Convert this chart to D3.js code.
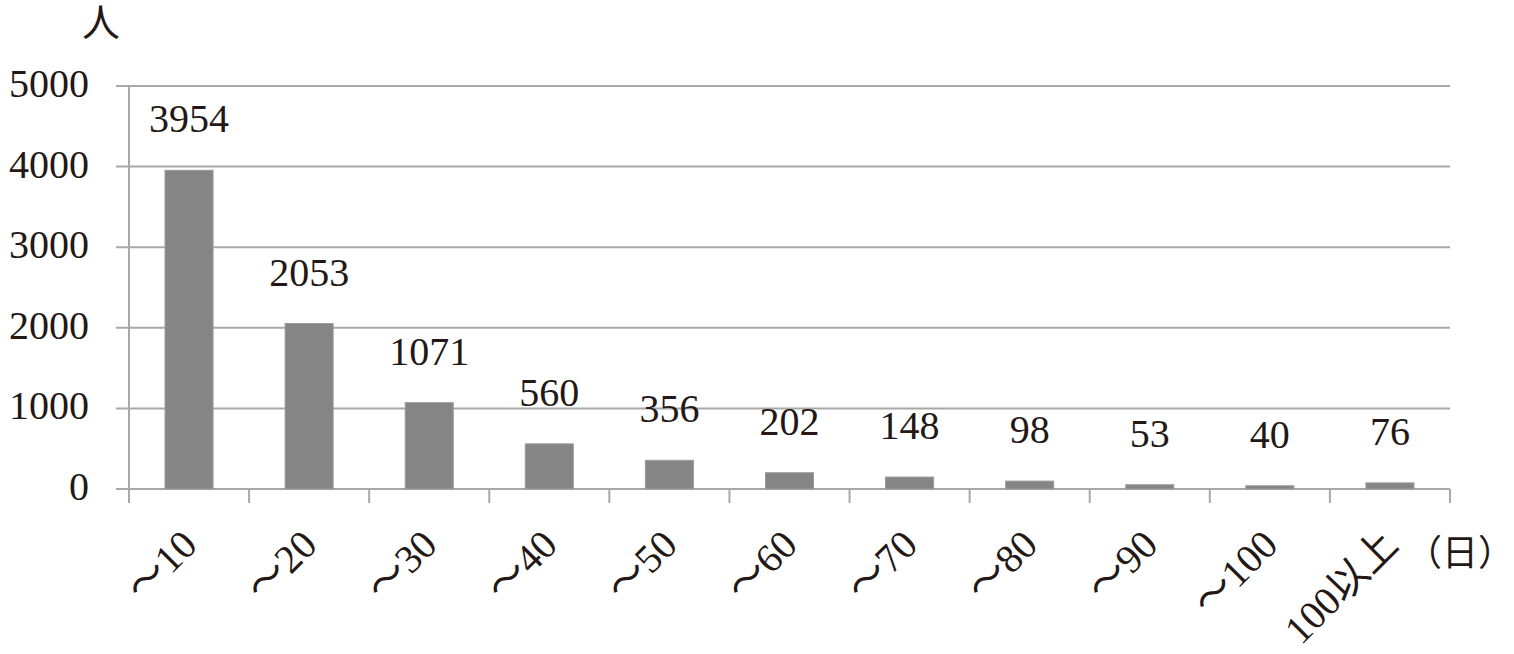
<!DOCTYPE html>
<html>
<head>
<meta charset="utf-8">
<script src="https://cdn.jsdelivr.net/npm/d3@7"></script>
<style>
  body { margin: 0; background: #fff; }
  text { font-family: "Liberation Serif", "Noto Sans CJK JP", serif; fill: #231815; }
</style>
</head>
<body>
<svg></svg>
<script>
// data
var categories = ["〜10", "〜20", "〜30", "〜40", "〜50", "〜60", "〜70", "〜80", "〜90", "〜100", "100以上"];
var counts = [3954, 2053, 1071, 560, 356, 202, 148, 98, 53, 40, 76];
var yTicks = [0, 1000, 2000, 3000, 4000, 5000];

var svgWidth = 1514, svgHeight = 654;
var plotLeft = 129, plotRight = 1450, plotTop = 86, plotBottom = 489;

var svg = d3.select("svg")
    .attr("width", svgWidth)
    .attr("height", svgHeight);

var x = d3.scaleBand()
    .domain(categories)
    .range([plotLeft, plotRight])
    .paddingInner(0.6)
    .paddingOuter(0.3);

var y = d3.scaleLinear()
    .domain([0, 5000])
    .range([plotBottom, plotTop]);

// gridlines
svg.selectAll("line.grid").data(yTicks).enter()
    .append("line")
    .attr("class", "grid")
    .attr("x1", plotLeft - 13)
    .attr("x2", plotRight)
    .attr("y1", function (d) { return y(d); })
    .attr("y2", function (d) { return y(d); })
    .attr("stroke", "#a8a8a8")
    .attr("stroke-width", 2);

// y axis line
svg.append("line")
    .attr("x1", plotLeft).attr("x2", plotLeft)
    .attr("y1", y(5000)).attr("y2", plotBottom + 14)
    .attr("stroke", "#a8a8a8")
    .attr("stroke-width", 2);

// x ticks at band edges
var step = x.step();
var edges = d3.range(categories.length + 1).map(function (i) { return plotLeft + i * step; });
svg.selectAll("line.xtick").data(edges).enter()
    .append("line")
    .attr("class", "xtick")
    .attr("x1", function (d) { return d; })
    .attr("x2", function (d) { return d; })
    .attr("y1", plotBottom)
    .attr("y2", plotBottom + 14)
    .attr("stroke", "#a8a8a8")
    .attr("stroke-width", 2);

// bars
svg.selectAll("rect").data(counts).enter()
    .append("rect")
    .attr("x", function (d, i) { return x(categories[i]); })
    .attr("y", function (d) { return y(d); })
    .attr("width", x.bandwidth())
    .attr("height", function (d) { return plotBottom - y(d); })
    .attr("fill", "#858585")
    .attr("stroke", "#9a9a9a")
    .attr("stroke-width", 1);

// value labels
svg.selectAll("text.val").data(counts).enter()
    .append("text")
    .attr("class", "val")
    .text(function (d) { return d; })
    .attr("text-anchor", "middle")
    .attr("x", function (d, i) { return x(categories[i]) + x.bandwidth() / 2; })
    .attr("y", function (d) { return y(d) - 38; })
    .attr("font-size", 40);

// y labels
svg.selectAll("text.ylab").data(yTicks).enter()
    .append("text")
    .attr("class", "ylab")
    .text(function (d) { return d; })
    .attr("text-anchor", "end")
    .attr("x", 89)
    .attr("y", function (d) { return y(d) + 11; })
    .attr("font-size", 40);

// x labels
svg.selectAll("text.xlab").data(categories).enter()
    .append("text")
    .attr("class", "xlab")
    .text(function (d) { return d; })
    .attr("text-anchor", "end")
    .attr("font-size", 40)
    .attr("transform", function (d) {
        var cx = x(d) + x.bandwidth() / 2 + 10;
        return "translate(" + cx + "," + 547 + ") rotate(-45)";
    });

// unit labels
svg.append("text")
    .text("人")
    .attr("x", 82)
    .attr("y", 36)
    .attr("font-size", 38);

svg.append("text")
    .text("（日）")
    .attr("x", 1406)
    .attr("y", 566)
    .attr("font-size", 36);
</script>
</body>
</html>
